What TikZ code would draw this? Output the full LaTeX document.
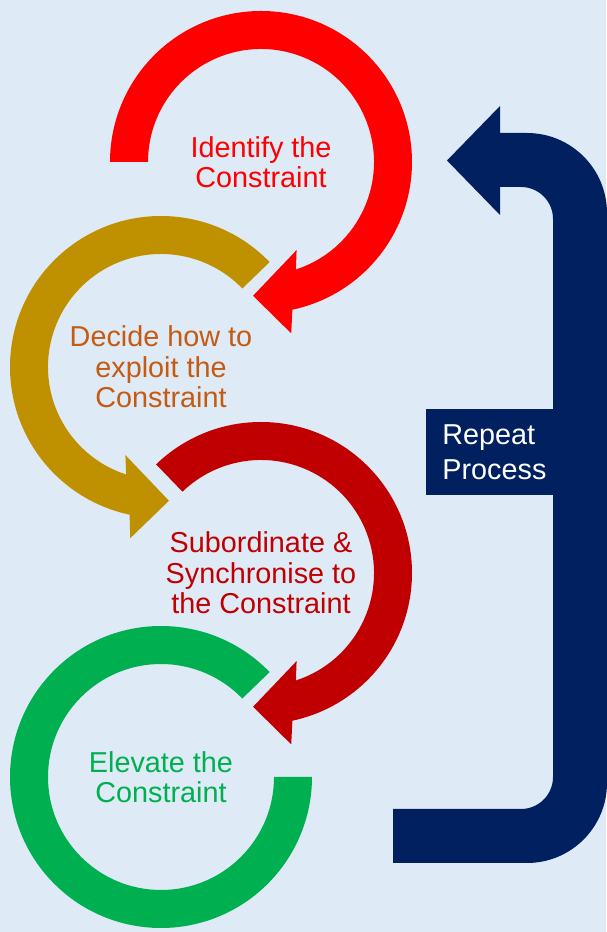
\documentclass[tikz,border=0pt]{standalone}
\usepackage{fontspec}
\setmainfont{Liberation Sans}
\usepackage{tikz}
\usetikzlibrary{positioning}
\definecolor{bgblue}{HTML}{DEEAF6}
\definecolor{idred}{HTML}{FF0000}
\definecolor{exgold}{HTML}{BF9000}
\definecolor{exorange}{HTML}{C55A11}
\definecolor{subred}{HTML}{C00000}
\definecolor{elgreen}{HTML}{00B050}
\definecolor{navy}{HTML}{002060}
\tikzstyle{steplabel} = [draw=none, align=center, inner sep=0, font=\fontsize{14.4pt}{15.2pt}\selectfont]
\tikzstyle{repeatbox} = [fill=navy, text=white, align=left, anchor=west, inner xsep=8pt, minimum height=43pt, font=\fontsize{14.4pt}{17.5pt}\selectfont]

\begin{document}
\begin{tikzpicture}[x=0.5pt, y=0.5pt]
\fill [bgblue] (0,0) rectangle (606,932);
\useasboundingbox (0,0) rectangle (606,932);
% ring centres, top to bottom
\coordinate (C1) at (261,770);
\coordinate (C2) at (161,565);
\coordinate (C3) at (261,359);
\coordinate (C4) at (161,155);
% clockwise rings (outer radius 151, inner 113)
\fill [idred, shift={(C1)}] (180:151) arc [start angle=180, end angle=-78, radius=151]
  -- (-80:174) -- (-93.4:134) -- (-68:95) -- (-72:113)
  arc [start angle=-72, end angle=180, radius=113] -- cycle;
\fill [subred, shift={(C3)}] (134:151) arc [start angle=134, end angle=-78, radius=151]
  -- (-80:174) -- (-93.4:134) -- (-68:95) -- (-72:113)
  arc [start angle=-72, end angle=134, radius=113] -- cycle;
% anticlockwise rings
\fill [exgold, shift={(C2)}] (44:151) arc [start angle=44, end angle=258, radius=151]
  -- (259.8:174) -- (273.4:134) -- (248:95) -- (252:113)
  arc [start angle=252, end angle=44, radius=113] -- cycle;
\fill [elgreen, shift={(C4)}] (44:151) arc [start angle=44, end angle=360, radius=151]
  -- (0:113) arc [start angle=360, end angle=44, radius=113] -- cycle;
% labels
\node [steplabel, text=idred] (L1) at (C1) {Identify the\\Constraint};
\node [steplabel, text=exorange] (L2) at (C2) {Decide how to\\exploit the\\Constraint};
\node [steplabel, text=subred] (L3) at (C3) {Subordinate \&\\Synchronise to\\the Constraint};
\node [steplabel, text=elgreen] (L4) at (C4) {Elevate the\\Constraint};
% return arrow on the right
\fill [navy] (393,69) -- (527,69) arc [start angle=-90, end angle=0, radius=80]
  -- (607,719) arc [start angle=0, end angle=90, radius=80]
  -- (500,799) -- (500,826) -- (447,771.5) -- (500,717) -- (500,745)
  -- (521,745) arc [start angle=90, end angle=0, radius=32]
  -- (553,155) arc [start angle=0, end angle=-90, radius=32]
  -- (393,123) -- cycle;
\node [repeatbox] (R) at (426,480) {Repeat\\Process};
\end{tikzpicture}
\end{document}
